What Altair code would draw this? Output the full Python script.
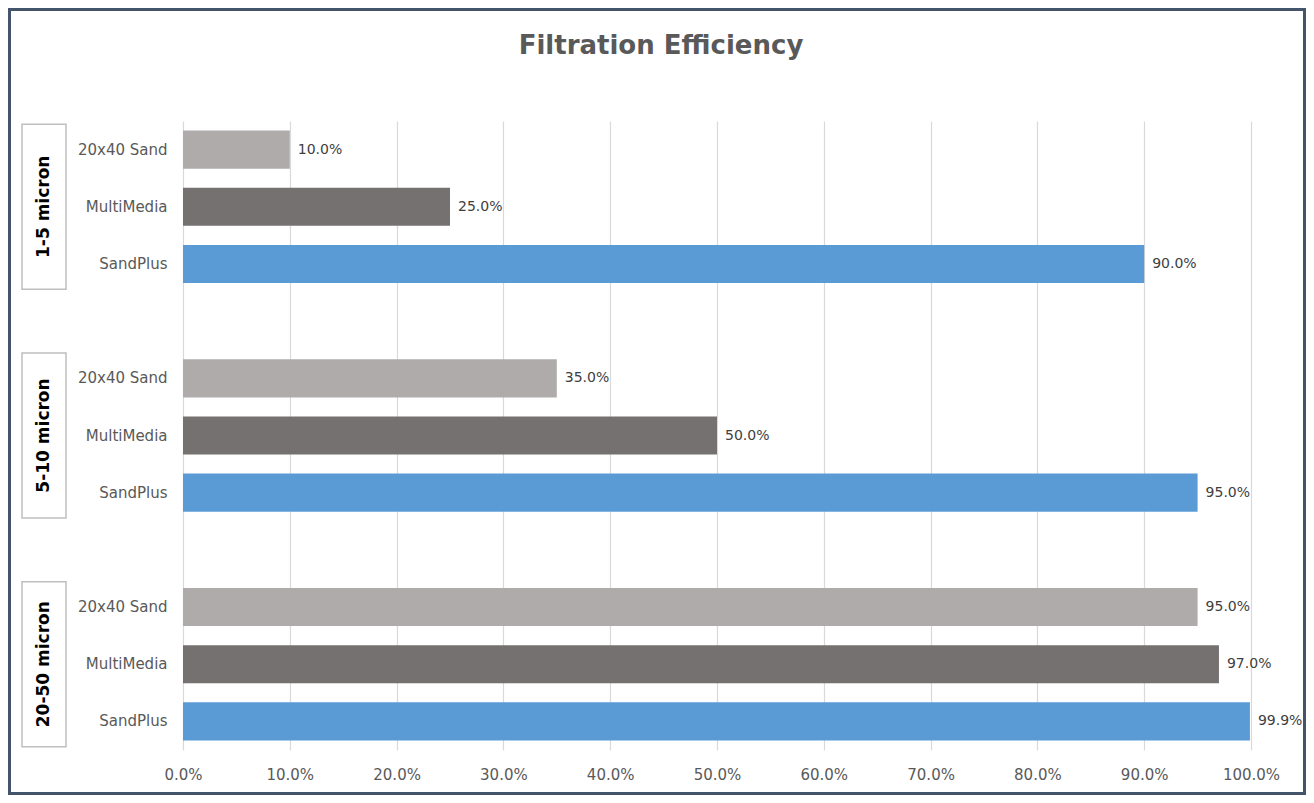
import altair as alt
import pandas as pd

# ---- data ----
groups = ["1-5 micron", "5-10 micron", "20-50 micron"]
media = ["20x40 Sand", "MultiMedia", "SandPlus"]
eff_1_5 = [10.0, 25.0, 90.0]
eff_5_10 = [35.0, 50.0, 95.0]
eff_20_50 = [95.0, 97.0, 99.9]
colors = ["#AFABAB", "#767171", "#5B9BD5"]
tick_values = [0, 10, 20, 30, 40, 50, 60, 70, 80, 90, 100]
title_text = "Filtration Efficiency"

FONT = "DejaVu Sans"

rows = []
domain = []
boxes = []
for gi, (g, vals) in enumerate(zip(groups, [eff_1_5, eff_5_10, eff_20_50])):
    if gi > 0:
        domain.append(f"gap{gi}|")
    for m, v in zip(media, vals):
        key = f"{g}|{m}"
        domain.append(key)
        rows.append({"key": key, "group": g, "media": m, "value": v,
                     "label": f"{v:.1f}%"})
    boxes.append({"key": f"{g}|{media[1]}", "group": g})

df = pd.DataFrame(rows)
box_df = pd.DataFrame(boxes)

W, H = 1068, 629

y_enc = alt.Y(
    "key:N",
    scale=alt.Scale(domain=domain, paddingInner=0.333, paddingOuter=0.1665),
    axis=alt.Axis(title=None, labelExpr="split(datum.label, '|')[1]",
                  ticks=False, domain=False, labelPadding=16,
                  labelFontSize=15, labelColor="#595959", labelFont=FONT,
                  grid=False),
)
x_enc = alt.X(
    "value:Q",
    scale=alt.Scale(domain=[0, 100], nice=False),
    axis=alt.Axis(title=None, values=tick_values,
                  labelExpr="format(datum.value, '.1f') + '%'",
                  grid=True, gridColor="#D9D9D9", gridWidth=1.2,
                  domain=False, ticks=False, labelPadding=17,
                  labelFontSize=15, labelColor="#595959", labelFont=FONT,
                  labelFlush=False),
)

base = alt.Chart(df)

bars = base.mark_bar().encode(
    x=x_enc, y=y_enc,
    color=alt.Color("media:N", scale=alt.Scale(domain=media, range=colors),
                    legend=None),
)

labels = base.mark_text(align="left", baseline="middle", dx=8,
                        fontSize=14, color="#404040", font=FONT).encode(
    x=x_enc, y=y_enc, text="label:N"
)

group_boxes = alt.Chart(box_df).mark_rect(
    height=165, fill="white", stroke="#BFBFBF", strokeWidth=1.5
).encode(y=y_enc, x=alt.value(-161), x2=alt.value(-117))

group_text = alt.Chart(box_df).mark_text(
    angle=270, fontSize=17, fontWeight="bold", color="#000000", font=FONT,
    baseline="middle", align="center"
).encode(y=y_enc, x=alt.value(-139), text="group:N")

single = alt.Data(values=[{"t": title_text}])

title = alt.Chart(single).mark_text(
    fontSize=26, fontWeight="bold", color="#595959", font=FONT,
    align="center", baseline="alphabetic"
).encode(x=alt.value(661 - 183), y=alt.value(54 - 121), text="t:N")

frame = alt.Chart(single).mark_rect(
    fillOpacity=0, stroke="#44546A", strokeWidth=3
).encode(x=alt.value(9.5 - 183), x2=alt.value(1304.5 - 183),
         y=alt.value(9.5 - 121), y2=alt.value(793.5 - 121))

chart = alt.layer(frame, title, group_boxes, group_text, bars, labels).properties(
    width=W, height=H,
    autosize=alt.AutoSizeParams(type="none"),
    padding={"left": 175, "top": 113, "right": 55, "bottom": 45},
    background="white",
).configure_view(stroke=None)

chart.save("out.html", embed_options={"renderer": "svg", "actions": False})
